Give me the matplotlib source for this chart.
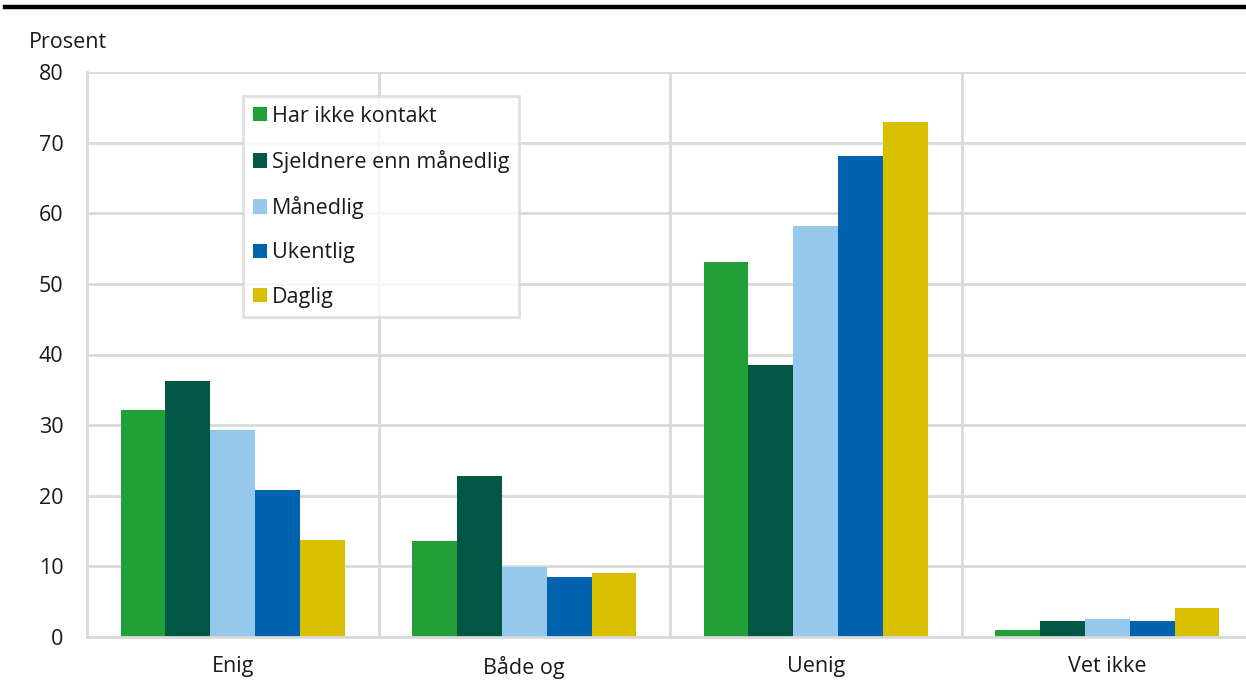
import numpy as np
import matplotlib
matplotlib.use("Agg")
import matplotlib.pyplot as plt
from matplotlib.lines import Line2D

plt.rcParams['font.family'] = ['Open Sans', 'DejaVu Sans']

# Data
categories = ["Enig", "Både og", "Uenig", "Vet ikke"]
series_names = ["Har ikke kontakt", "Sjeldnere enn månedlig", "Månedlig", "Ukentlig", "Daglig"]
har_ikke_kontakt = [32.1, 13.6, 53.1, 1.0]
sjeldnere = [36.2, 22.8, 38.5, 2.3]
maanedlig = [29.3, 9.9, 58.2, 2.5]
ukentlig = [20.8, 8.5, 68.1, 2.3]
daglig = [13.7, 9.1, 72.9, 4.1]
yticks = [0, 10, 20, 30, 40, 50, 60, 70, 80]

values = [har_ikke_kontakt, sjeldnere, maanedlig, ukentlig, daglig]
colors = ["#21a038", "#005744", "#96c8ec", "#0063af", "#d8c000"]

fs = 15.5
fig = plt.figure(figsize=(12.46, 6.86), dpi=100)
ax = fig.add_axes([87 / 1246, (686 - 637) / 686, 1166 / 1246, 565 / 686])

grid_c = "#d9d9d9"
x = np.arange(len(categories))
width = 0.154
for i, (name, vals, c) in enumerate(zip(series_names, values, colors)):
    ax.bar(x + (i - 2) * width, vals, width, color=c, label=name, zorder=3)

ax.set_xlim(-0.5, len(categories) - 0.5)
ax.set_ylim(0, 80)
ax.set_yticks(yticks)
ax.set_xticks(x)
ax.set_xticklabels(categories)
ax.tick_params(axis="both", length=0, labelsize=fs, colors="#1a1a1a")
ax.tick_params(axis="y", pad=17)
ax.tick_params(axis="x", pad=14)

# horizontal gridlines and vertical separators
ax.grid(axis="y", color=grid_c, linewidth=2, zorder=0)
for b in np.arange(0.5, len(categories) - 0.5, 1):
    ax.axvline(b, color=grid_c, linewidth=2, zorder=0)
for s in ["top", "right"]:
    ax.spines[s].set_visible(False)
ax.spines["left"].set_color(grid_c)
ax.spines["left"].set_linewidth(2)
ax.spines["bottom"].set_color(grid_c)
ax.spines["bottom"].set_linewidth(2)
ax.spines["bottom"].set_zorder(4)

fig.text(29 / 1246, 1 - 42 / 686, "Prosent", fontsize=fs, color="#1a1a1a", va="center", ha="left")

leg = ax.legend(loc="upper left", bbox_to_anchor=((243 - 87) / 1166, (637 - 96) / 565),
                fontsize=fs, frameon=True, fancybox=False, handlelength=0.65,
                handleheight=0.65, handletextpad=0.25, labelspacing=1.08,
                borderpad=0.45, borderaxespad=0)
leg.get_frame().set_edgecolor(grid_c)
leg.get_frame().set_linewidth(2)
leg.set_zorder(5)
for t in leg.get_texts():
    t.set_color("#1a1a1a")

# top rule
fig.add_artist(Line2D([5 / 1246, 1.0], [1 - 6.5 / 686] * 2, color="black", linewidth=3.2))

fig.savefig("out.png", dpi=100)
